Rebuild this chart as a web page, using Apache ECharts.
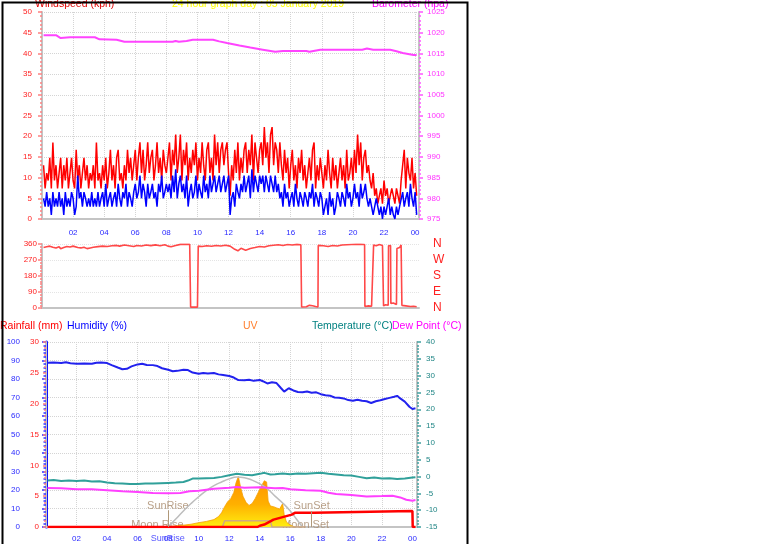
<!DOCTYPE html>
<html><head><meta charset="utf-8">
<script src="https://cdn.jsdelivr.net/npm/echarts/dist/echarts.min.js"></script>
<style>html,body{margin:0;padding:0;background:#fff}#c{width:761px;height:544px}</style>
</head><body><div id="c"></div>
<script>
// ---------- DATA ----------
const hourLabels = ['', '02', '04', '06', '08', '10', '12', '14', '16', '18', '20', '22', '00'];
const dirLabels = { 0: 'N', 90: 'E', 180: 'S', 270: 'W', 360: 'N' };

// wind speed (kph), one sample every 0.1 h starting at 00:06
const windGust = [
 13,7.4,11.1,9.3,14.8,7.4,18.5,9.3,13,7.4,
 11.1,14.8,7.4,13,9.3,14.8,7.4,11.1,14.8,9.3,
 7.4,16.7,9.3,13,7.4,11.1,14.8,9.3,13,7.4,
 11.1,9.3,13,7.4,18.5,9.3,11.1,7.4,13,9.3,
 14.8,7.4,11.1,16.7,9.3,13,7.4,14.8,16.7,9.3,
 11.1,7.4,13,9.3,16.7,11.1,14.8,9.3,13,16.7,
 9.3,14.8,18.5,11.1,16.7,9.3,13,18.5,11.1,14.8,
 16.7,9.3,13,18.5,11.1,14.8,9.3,16.7,13,11.1,
 14.8,18.5,9.3,16.7,13,20.4,11.1,14.8,20.4,9.3,
 16.7,13,18.5,9.3,14.8,11.1,16.7,13,18.5,9.3,
 14.8,11.1,18.5,13,9.3,16.7,18.5,11.1,14.8,9.3,
 20.4,13,18.5,11.1,16.7,18.5,13,16.7,18.5,11.1,
 5.6,13,9.3,16.7,11.1,18.5,9.3,14.8,11.1,16.7,
 18.5,11.1,16.7,13,20.4,9.3,18.5,14.8,11.1,16.7,
 18.5,13,22.2,14.8,18.5,11.1,20.4,22.2,13,18.5,
 16.7,11.1,18.5,13,9.3,16.7,11.1,14.8,7.4,13,
 16.7,9.3,13,7.4,14.8,11.1,16.7,9.3,13,7.4,
 11.1,14.8,9.3,16.7,18.5,7.4,13,9.3,14.8,11.1,
 7.4,13,9.3,16.7,11.1,7.4,14.8,9.3,13,7.4,
 11.1,14.8,9.3,13,7.4,16.7,9.3,11.1,14.8,9.3,
 16.7,11.1,20.4,13,18.5,9.3,14.8,16.7,11.1,13,
 9.3,7.4,11.1,5.6,7.4,3.7,5.6,7.4,3.7,9.3,
 5.6,7.4,3.7,5.6,7.4,5.6,3.7,7.4,5.6,3.7,
 9.3,13,16.7,7.4,14.8,11.1,9.3,14.8,7.4,11.1,
 5.6
];
const windAvg = [
 5,3,6.5,3,5,1,6.5,3,5,3,
 6.5,3,5,1,6.5,3,5,3,6.5,5,
 1,3,10.5,5,6.5,3,6.5,5,3,5,
 3,6.5,3,5,3,6.5,3,5,6.5,3,
 8.5,3,5,6.5,3,5,6.5,3,8.5,5,
 3,6.5,5,8.5,3,6.5,5,3,6.5,8.5,
 5,6.5,10.5,5,8.5,6.5,3,8.5,5,6.5,
 8.5,5,6.5,3,8.5,6.5,10.5,5,6.5,8.5,
 6.5,8.5,5,10.5,6.5,12,5,8.5,10.5,6.5,
 8.5,5,10.5,3,6.5,8.5,5,6.5,10.5,5,
 8.5,6.5,5,10.5,6.5,8.5,5,10.5,6.5,8.5,
 10.5,6.5,8.5,10.5,6.5,8.5,10.5,6.5,8.5,10.5,
 1,5,6.5,3,8.5,6.5,5,8.5,6.5,10.5,
 6.5,8.5,10.5,5,12,6.5,10.5,8.5,6.5,10.5,
 8.5,10.5,6.5,10.5,8.5,6.5,10.5,8.5,6.5,10.5,
 6.5,8.5,5,6.5,3,8.5,5,6.5,3,5,
 6.5,3,8.5,5,3,6.5,5,3,6.5,5,
 3,6.5,5,8.5,3,6.5,5,3,6.5,5,
 1,3,5,1,6.5,3,5,1,3,6.5,
 5,3,6.5,5,3,8.5,5,6.5,3,5,
 8.5,5,6.5,3,8.5,5,6.5,8.5,5,3,
 5,3,1,3,5,3,1,3,0,3,
 1,3,5,1,3,1,0,3,1,3,
 3,6.5,3,5,6.5,3,8.5,5,3,6.5,
 1
];

// barometer (hPa): [hour, value]
const barometer = [[0.1,1019.4],[0.9,1019.4],[1.2,1018.7],[1.8,1018.9],[3.4,1018.9],[3.7,1018.4],[4.8,1018.3],[5.3,1017.8],[8.4,1017.8],[8.6,1018.0],[8.8,1017.8],[9.3,1018.0],[9.7,1018.3],[11.0,1018.3],[11.4,1017.9],[11.9,1017.5],[12.7,1016.9],[13.4,1016.4],[14.2,1015.9],[15.0,1015.4],[15.5,1015.6],[17.0,1015.6],[17.2,1015.4],[17.9,1015.9],[20.6,1015.9],[20.9,1016.2],[21.3,1015.9],[22.4,1015.9],[22.8,1015.5],[23.2,1015.1],[23.9,1014.6],[24.1,1014.6]];

// wind direction (deg): [hour, value]
const windDir = [[0.1,340],[0.3,344],[0.5,348],[0.7,342],[0.9,338],[1.1,345],[1.2,333],[1.4,340],[1.6,346],[1.8,343],[2.0,348],[2.3,340],[2.5,338],[2.7,342],[2.9,334],[3.1,338],[3.3,342],[3.6,345],[3.9,348],[4.2,346],[4.5,350],[4.8,352],[5.0,348],[5.3,354],[5.6,350],[5.9,346],[6.1,352],[6.4,349],[6.7,354],[7.0,351],[7.3,355],[7.6,350],[7.9,356],[8.1,348],[8.3,345],[8.6,352],[8.9,358],[9.2,359],[9.5,358],[9.56,5],[10.0,5],[10.05,348],[10.3,346],[10.6,350],[10.9,347],[11.2,352],[11.5,349],[11.8,353],[12.1,348],[12.4,330],[12.6,322],[12.8,336],[13.1,325],[13.4,335],[13.7,340],[14.0,346],[14.3,343],[14.6,350],[14.9,353],[15.2,356],[15.5,352],[15.8,357],[16.1,354],[16.4,358],[16.65,356],[16.7,6],[17.0,7],[17.2,15],[17.4,13],[17.6,8],[17.75,6],[17.77,352],[18.1,350],[18.4,346],[18.7,352],[19.0,349],[19.3,354],[19.6,356],[19.9,357],[20.2,358],[20.5,358],[20.75,357],[20.77,8],[21.0,12],[21.2,10],[21.31,10],[21.33,355],[21.5,350],[21.7,357],[21.9,352],[21.95,355],[21.97,12],[22.1,18],[22.2,28],[22.27,15],[22.29,350],[22.4,356],[22.42,352],[22.44,25],[22.6,28],[22.8,20],[22.81,22],[22.83,335],[23.0,340],[23.1,355],[23.13,356],[23.15,15],[23.4,12],[23.7,8],[23.9,10],[24.1,7]];

// humidity (%)
const humidity = [[0.1,88.8],[0.5,88.9],[1.0,88.6],[1.3,89.0],[1.6,88.5],[2.0,88.3],[2.5,88.4],[3.0,88.2],[3.3,88.8],[3.6,88.9],[4.0,88.6],[4.3,87.5],[4.7,86.2],[5.0,85.3],[5.3,85.5],[5.6,86.8],[6.0,87.9],[6.3,88.2],[6.6,87.6],[7.0,87.5],[7.3,87.0],[7.6,85.8],[8.0,85.0],[8.3,84.2],[8.6,84.4],[9.0,85.0],[9.3,84.8],[9.6,83.5],[10.0,82.8],[10.3,83.3],[10.6,83.0],[11.0,83.2],[11.3,82.5],[11.6,82.2],[12.0,81.6],[12.3,80.8],[12.6,79.4],[13.0,79.3],[13.3,79.6],[13.6,79.0],[14.0,79.5],[14.2,78.8],[14.5,77.6],[14.8,78.2],[15.1,77.8],[15.4,75.0],[15.6,73.2],[15.9,75.0],[16.2,73.8],[16.5,73.0],[16.8,72.8],[17.1,73.2],[17.4,72.6],[17.7,72.8],[18.0,71.8],[18.3,71.2],[18.6,71.0],[18.9,70.0],[19.2,69.9],[19.5,69.5],[19.8,68.6],[20.1,68.2],[20.4,68.8],[20.7,68.2],[21.0,68.0],[21.3,67.0],[21.6,68.0],[21.9,68.5],[22.2,69.2],[22.5,69.8],[22.8,70.4],[23.0,70.9],[23.2,69.5],[23.5,67.8],[23.8,65.0],[24.0,63.8],[24.2,64.2]];

// temperature (°C)
const temperature = [[0.1,-1.2],[0.5,-1.0],[1.0,-1.3],[1.5,-1.2],[2.0,-1.3],[2.5,-1.2],[3.0,-1.5],[3.5,-1.4],[4.0,-1.8],[4.5,-2.0],[5.0,-2.1],[5.5,-2.2],[6.0,-2.2],[6.5,-2.1],[7.0,-2.1],[7.5,-2.0],[8.0,-1.9],[8.5,-1.8],[9.0,-1.6],[9.3,-1.2],[9.6,-0.6],[10.0,-0.6],[10.5,-0.5],[11.0,-0.4],[11.5,-0.1],[12.0,0.4],[12.5,0.8],[13.0,0.5],[13.5,0.4],[14.0,0.8],[14.3,1.1],[14.7,0.6],[15.0,0.7],[15.5,0.9],[16.0,0.7],[16.5,0.9],[17.0,0.8],[17.5,1.0],[18.0,1.1],[18.5,0.8],[19.0,0.6],[19.5,0.4],[20.0,0.3],[20.5,-0.1],[21.0,-0.5],[21.5,-0.3],[22.0,-0.6],[22.5,-0.5],[23.0,-0.7],[23.5,-0.6],[24.0,-0.3],[24.2,-0.2]];

// dew point (°C)
const dewPoint = [[0.1,-3.4],[1,-3.5],[2,-3.8],[3,-3.8],[4,-4.1],[5,-4.4],[6,-4.6],[7,-4.9],[8,-5.0],[8.8,-4.9],[9.4,-4.4],[10,-4.2],[11,-3.6],[12,-3.3],[12.5,-3.1],[13,-3.3],[14,-3.2],[15,-3.5],[15.5,-3.4],[16,-3.8],[17,-4.1],[18,-4.2],[18.5,-4.8],[19,-5.2],[20,-5.5],[21,-5.9],[22,-5.8],[22.7,-5.7],[23.2,-6.2],[23.6,-6.9],[24,-7.2],[24.2,-7.0]];

// UV / solar (plotted on the rainfall scale)
const uv = [[7.8,0],[8.2,0.1],[8.6,0.2],[9.0,0.3],[9.5,0.45],[10.0,0.7],[10.5,0.9],[11.0,1.2],[11.3,1.7],[11.5,2.3],[11.7,3.3],[11.9,4.1],[12.1,4.6],[12.3,5.6],[12.45,7.2],[12.6,8.2],[12.75,6.4],[12.9,5.0],[13.1,4.0],[13.3,3.5],[13.5,3.8],[13.7,4.6],[13.9,5.6],[14.1,6.6],[14.3,7.5],[14.45,7.3],[14.55,4.2],[14.7,3.4],[14.9,3.3],[15.1,3.1],[15.3,2.9],[15.5,3.8],[15.6,2.0],[15.75,0.8],[16.0,0.3],[16.3,0]];

// rainfall (mm, cumulative)
const rainfall = [[0.1,0],[13.85,0],[14.0,0.2],[14.3,0.4],[14.6,0.8],[14.9,1.2],[15.2,1.4],[15.5,1.6],[15.8,1.8],[16.1,2.0],[16.3,2.3],[17.55,2.3],[17.6,2.6],[24.0,2.6],[24.02,0],[24.2,0]];

// sun path & moon path
const sunArc = [[7.98,0],[8.5,1.3],[9.0,2.6],[9.5,3.8],[10.0,4.9],[10.5,5.9],[11.0,6.7],[11.5,7.3],[12.0,7.8],[12.5,8.1],[13.0,8.0],[13.5,7.6],[14.0,7.0],[14.5,6.2],[15.0,5.0],[15.5,3.9],[16.0,2.6],[16.4,1.3],[16.8,0]];
const moonPath = [[7.3,0],[11.55,0],[11.7,1.0],[14.7,1.0],[14.8,0],[17.0,0]];
const sunRise = 7.98, sunSet = 17.4, moonRise = 7.3, moonSet = 17.0;
const sunEventLabels = [[sunRise, 3.4, 'SunRise'], [sunSet, 3.4, 'SunSet'], [moonRise, 0.3, 'Moon Rise'], [moonSet, 0.3, 'Moon Set']];

// ---------- CHART ----------
const windTimes = windGust.map((_, i) => Math.round((i + 1) * 10) / 100);
const FONT = 'Liberation Sans, Arial, sans-serif';
const TFONT = '10.5px ' + FONT;
const hourFmt = v => (Math.abs(v / 2 - Math.round(v / 2)) < 1e-6 ? (hourLabels[Math.round(v / 2)] || '') : '');
const gridLine = { show: true, lineStyle: { type: 'dotted', color: '#d4d4d4', width: 1 } };
const frame = { show: true, lineStyle: { color: '#c4c4c4', width: 2 } };
const plain = v => String(v);

function yAx(o) {
  return Object.assign({
    type: 'value', axisLine: frame,
    axisTick: { show: true, length: 4, lineStyle: { color: '#ff8080', width: 1.5 } },
    minorTick: { show: true, splitNumber: 5, length: 2, lineStyle: { color: '#ff8080', width: 1.5 } },
    splitLine: { show: false },
    axisLabel: { fontSize: 8, fontFamily: FONT, color: '#ff2020', formatter: plain }
  }, o);
}

const option = {
  animation: false,
  backgroundColor: '#fff',
  grid: [
    { left: 42, top: 12, width: 377, height: 207 },
    { left: 42, top: 244, width: 377, height: 64 },
    { left: 46, top: 342, width: 371, height: 185 }
  ],
  xAxis: [
    { gridIndex: 0, type: 'value', min: 0, max: 24.25, interval: 2, axisLine: frame, axisTick: { show: false },
      splitLine: gridLine, axisLabel: { formatter: hourFmt, fontSize: 8, fontFamily: FONT, color: '#2a2aff', margin: 10 } },
    { gridIndex: 1, type: 'value', min: 0, max: 24.25, interval: 2, axisLine: frame, axisTick: { show: false },
      splitLine: { show: false }, axisLabel: { show: false } },
    { gridIndex: 2, type: 'value', min: 0, max: 24.3, interval: 2, axisLine: frame, axisTick: { show: false },
      splitLine: gridLine, axisLabel: { formatter: hourFmt, fontSize: 8, fontFamily: FONT, color: '#2a2aff', margin: 8 } }
  ],
  yAxis: [
    yAx({ gridIndex: 0, position: 'left', min: 0, max: 50, interval: 5, splitLine: gridLine,
      axisLabel: { fontSize: 8, fontFamily: FONT, color: '#ff2020', margin: 10, formatter: plain } }),
    yAx({ gridIndex: 0, position: 'right', min: 975, max: 1025, interval: 5,
      axisTick: { show: true, length: 4, lineStyle: { color: '#ff55ff', width: 1.5 } },
      minorTick: { show: true, splitNumber: 5, length: 2, lineStyle: { color: '#ff55ff', width: 1.5 } },
      axisLabel: { fontSize: 8, fontFamily: FONT, color: '#ff33ff', margin: 8, formatter: plain } }),
    yAx({ gridIndex: 1, position: 'left', min: 0, max: 360, interval: 90,
      minorTick: { show: true, splitNumber: 6, length: 2, lineStyle: { color: '#ff8080', width: 1.5 } },
      splitLine: { show: true, lineStyle: { type: 'dotted', color: '#e4e4e4' } },
      axisLabel: { fontSize: 8, fontFamily: FONT, color: '#ff2020', margin: 5, formatter: plain } }),
    { gridIndex: 1, type: 'value', position: 'right', min: 0, max: 360, interval: 90,
      axisLine: { show: false }, axisTick: { show: false }, splitLine: { show: false },
      axisLabel: { formatter: v => dirLabels[v] || '', fontSize: 12, fontFamily: FONT, color: '#ff2020', margin: 14 } },
    yAx({ gridIndex: 2, position: 'left', offset: 20, min: 0, max: 100, interval: 10,
      axisLine: { show: true, lineStyle: { color: '#1010ff', width: 3 } },
      axisTick: { show: true, length: 4, lineStyle: { color: '#3030ff', width: 1.5 } },
      minorTick: { show: true, splitNumber: 5, length: 2.5, lineStyle: { color: '#3030ff', width: 1.5 } },
      splitLine: gridLine,
      axisLabel: { fontSize: 8, fontFamily: FONT, color: '#2a2aff', margin: 6, formatter: plain } }),
    yAx({ gridIndex: 2, position: 'left', min: 0, max: 30, interval: 5,
      axisTick: { show: true, length: 3, lineStyle: { color: '#ff8080', width: 1.5 } },
      minorTick: { show: true, splitNumber: 5, length: 2, lineStyle: { color: '#ff8080', width: 1.5 } },
      axisLabel: { fontSize: 8, fontFamily: FONT, color: '#ff2020', margin: 7, formatter: plain } }),
    yAx({ gridIndex: 2, position: 'right', min: -15, max: 40, interval: 5,
      axisTick: { show: true, length: 4, lineStyle: { color: '#40a0a0', width: 1.5 } },
      minorTick: { show: true, splitNumber: 5, length: 2, lineStyle: { color: '#40a0a0', width: 1.5 } },
      axisLabel: { fontSize: 8, fontFamily: FONT, color: '#208585', margin: 9, formatter: plain } }),
    { gridIndex: 2, type: 'value', min: 0, max: 30, show: false }
  ],
  series: [
    { name: 'Gust', type: 'line', xAxisIndex: 0, yAxisIndex: 0, symbol: 'none',
      data: windGust.map((v, i) => [windTimes[i], v]), lineStyle: { color: '#ff0000', width: 1.5 } },
    { name: 'Average', type: 'line', xAxisIndex: 0, yAxisIndex: 0, symbol: 'none',
      data: windAvg.map((v, i) => [windTimes[i], v]), lineStyle: { color: '#0000ff', width: 1.5 } },
    { name: 'Barometer', type: 'line', xAxisIndex: 0, yAxisIndex: 1, symbol: 'none',
      data: barometer, lineStyle: { color: '#ff44ff', width: 2 } },
    { name: 'Direction', type: 'line', xAxisIndex: 1, yAxisIndex: 2, symbol: 'none',
      data: windDir, lineStyle: { color: '#ff4848', width: 1.6 } },
    { name: 'UV', type: 'line', xAxisIndex: 2, yAxisIndex: 7, symbol: 'none', data: uv,
      lineStyle: { color: '#f5a000', width: 0.8 },
      areaStyle: { opacity: 1, color: new echarts.graphic.LinearGradient(0, 0, 0, 1, [
        { offset: 0, color: '#ff9000' }, { offset: 0.55, color: '#ffb000' }, { offset: 1, color: '#ffee10' }]) } },
    { name: 'Sun', type: 'line', xAxisIndex: 2, yAxisIndex: 7, symbol: 'none', smooth: true,
      data: sunArc, lineStyle: { color: '#bdbdbd', width: 1.5 } },
    { name: 'Moon', type: 'line', xAxisIndex: 2, yAxisIndex: 7, symbol: 'none',
      data: moonPath, lineStyle: { color: '#d0a882', width: 1.5 } },
    { name: 'Humidity', type: 'line', xAxisIndex: 2, yAxisIndex: 4, symbol: 'none',
      data: humidity, lineStyle: { color: '#2222ee', width: 2 } },
    { name: 'Temperature', type: 'line', xAxisIndex: 2, yAxisIndex: 6, symbol: 'none',
      data: temperature, lineStyle: { color: '#30a09a', width: 2 } },
    { name: 'Dew Point', type: 'line', xAxisIndex: 2, yAxisIndex: 6, symbol: 'none',
      data: dewPoint, lineStyle: { color: '#ff40ff', width: 2 } },
    { name: 'Rainfall', type: 'line', xAxisIndex: 2, yAxisIndex: 5, symbol: 'none',
      data: rainfall, lineStyle: { color: '#ff0000', width: 2.5 } },
    { name: 'Events', type: 'scatter', xAxisIndex: 2, yAxisIndex: 7, symbolSize: 1,
      itemStyle: { color: 'rgba(0,0,0,0)' }, data: sunEventLabels,
      label: { show: true, position: 'inside', formatter: p => p.data[2], color: '#a88a6c', fontSize: 11, fontFamily: FONT },
      markLine: { silent: true, symbol: 'none', label: { show: false },
        lineStyle: { color: '#b09878', width: 1, type: 'solid' },
        data: [[{ coord: [sunRise, 0] }, { coord: [sunRise, 2.7] }], [{ coord: [sunSet, 0] }, { coord: [sunSet, 2.6] }]] } },
    { name: 'SunRiseAxis', type: 'scatter', xAxisIndex: 2, yAxisIndex: 7, symbolSize: 1, clip: false,
      itemStyle: { color: 'rgba(0,0,0,0)' }, data: [[sunRise, 0]],
      label: { show: true, position: 'inside', offset: [0, 12], formatter: 'SunRise', color: '#2a2aff', fontSize: 9, fontFamily: FONT } }
  ],
  graphic: [
    { type: 'text', left: 35, top: -1, style: { text: 'Windspeed (kph)', fill: '#e00000', font: TFONT } },
    { type: 'text', left: 172, top: -1, style: { text: '24 hour graph day : 05 January 2019', fill: '#ffff00', font: TFONT } },
    { type: 'text', left: 372, top: -1, style: { text: 'Barometer (hpa)', fill: '#ff00ff', font: TFONT } },
    { type: 'text', left: 0, top: 321, style: { text: 'Rainfall (mm)', fill: '#ff0000', font: TFONT } },
    { type: 'text', left: 67, top: 321, style: { text: 'Humidity (%)', fill: '#0000ff', font: TFONT } },
    { type: 'text', left: 243, top: 321, style: { text: 'UV', fill: '#ff8030', font: TFONT } },
    { type: 'text', left: 312, top: 321, style: { text: 'Temperature (°C)', fill: '#008080', font: TFONT } },
    { type: 'text', left: 392, top: 321, style: { text: 'Dew Point (°C)', fill: '#ff00ff', font: TFONT } },
    { type: 'rect', left: 466, top: 0, shape: { width: 295, height: 544 }, style: { fill: '#fff' }, z: 50 },
    { type: 'rect', left: 0, top: 0, shape: { x: 0, y: 0, width: 465, height: 560 }, style: { fill: 'none', stroke: '#000', lineWidth: 2 }, z: 60 }
  ]
};
const chart = echarts.init(document.getElementById('c'));
chart.setOption(option);
</script></body></html>
